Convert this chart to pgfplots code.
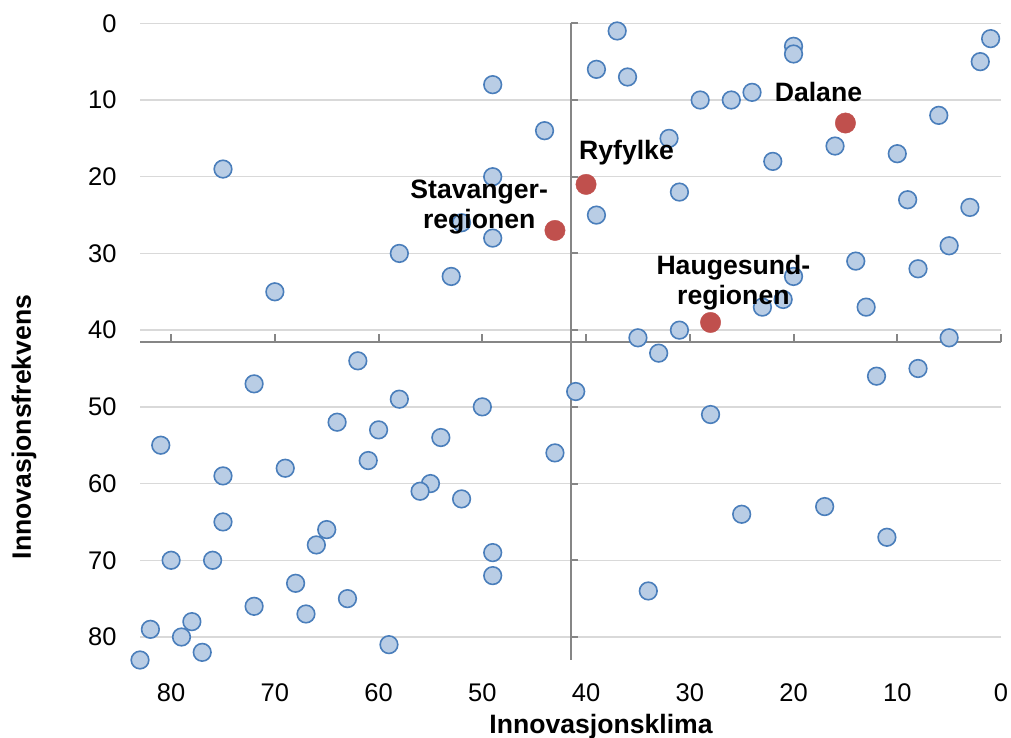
\documentclass[border=0pt]{standalone}
\usepackage{fontspec}
\setmainfont{Liberation Sans}
\usepackage{pgfplots}
\pgfplotsset{compat=1.18}
\definecolor{ptfill}{HTML}{B9CDE5}
\definecolor{ptedge}{HTML}{4A7EBB}
\definecolor{ptred}{HTML}{C0504D}
\definecolor{midline}{HTML}{868686}
\definecolor{gridc}{HTML}{D9D9D9}

% regions (x = Innovasjonsklima, y = Innovasjonsfrekvens)
\pgfplotstableread{
x y
75 19
37 1
39 6
36 7
49 8
29 10
26 10
24 9
20 3
20 4
1 2
2 5
6 12
44 14
32 15
16 16
10 17
22 18
49 20
31 22
9 23
3 24
39 25
52 26
49 28
5 29
58 30
14 31
8 32
53 33
20 33
70 35
21 36
23 37
13 37
31 40
35 41
5 41
33 43
62 44
8 45
12 46
72 47
41 48
58 49
50 50
28 51
64 52
60 53
54 54
81 55
43 56
61 57
69 58
75 59
55 60
56 61
52 62
17 63
25 64
75 65
65 66
11 67
66 68
49 69
80 70
76 70
49 72
68 73
34 74
63 75
72 76
67 77
78 78
82 79
79 80
59 81
77 82
83 83
}\regions

\pgfplotstableread{
x y
15 13
40 21
43 27
28 39
}\rogaland

\begin{document}
\begin{tikzpicture}
\begin{axis}[
  set layers,
  scale only axis, width=430.5pt, height=318.35pt,
  x dir=reverse, y dir=reverse,
  xmin=0, xmax=83, ymin=0, ymax=83,
  xtick={0,10,...,80}, ytick={0,10,...,80},
  axis line style={draw=none},
  major tick length=0pt,
  ymajorgrids, grid style={gridc, line width=0.75pt},
  /pgf/number format/assume math mode=true,
  tick label style={font=\fontsize{12.75}{15}\selectfont, inner sep=0pt},
  xticklabel style={anchor=center, yshift=-16.5pt},
  yticklabel style={anchor=east, xshift=-11.5pt},
  clip=false,
]
\draw[midline, line width=1pt] (axis cs:41.5,0) -- (axis cs:41.5,83);
\draw[midline, line width=1pt] (axis cs:83,41.5) -- (axis cs:0,41.5);
\pgfplotsinvokeforeach{0,10,...,80}{\draw[midline, line width=1pt] (axis cs:#1,41.5) -- ++(0pt,3.6pt);}
\pgfplotsinvokeforeach{0,10,...,80}{\draw[midline, line width=1pt] (axis cs:41.5,#1) -- ++(3.9pt,0pt);}

\addplot[only marks, mark=*, mark size=4.4pt,
  mark options={fill=ptfill, draw=ptedge, line width=0.8pt}] table {\regions};
\addplot[only marks, mark=*, mark size=5.1pt,
  mark options={fill=ptred, draw=ptred, line width=0.2pt}] table {\rogaland};

\begin{pgfonlayer}{axis foreground}
\begin{scope}[every node/.style={font=\fontsize{13.3}{15}\selectfont\bfseries, anchor=base, inner sep=0pt}]
\node at (axis cs:17.6,10.2) {Dalane};
\node at (axis cs:36.1,17.7) {Ryfylke};
\node at (axis cs:50.3,22.8) {Stavanger-};
\node at (axis cs:50.3,26.7) {regionen};
\node at (axis cs:25.8,32.8) {Haugesund-};
\node at (axis cs:25.8,36.7) {regionen};
\end{scope}
\end{pgfonlayer}

\node[font=\fontsize{13.3}{15}\selectfont\bfseries, anchor=base, inner sep=0pt]
  at (axis description cs:0.5354,-0.1162) {Innovasjonsklima};
\node[font=\fontsize{13.3}{15}\selectfont\bfseries, anchor=base, rotate=90, inner sep=0pt]
  at (axis description cs:-0.1266,0.366) {Innovasjonsfrekvens};
\end{axis}
\pgfresetboundingbox
\path[use as bounding box] ([xshift=-70pt,yshift=-38.5pt]current axis.south west)
  rectangle ([xshift=5pt,yshift=11.65pt]current axis.north east);
\end{tikzpicture}
\end{document}
